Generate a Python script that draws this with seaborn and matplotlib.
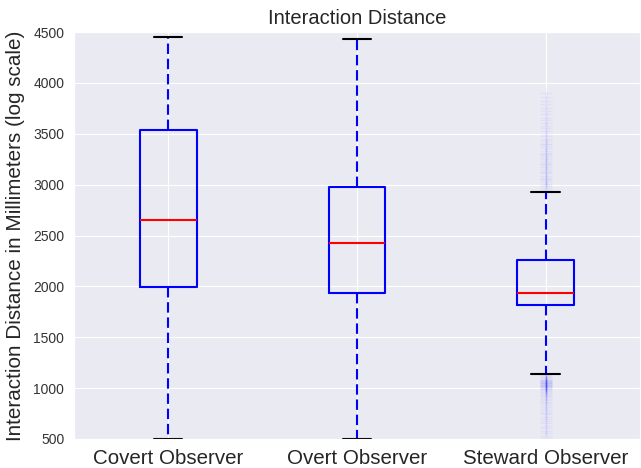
import matplotlib
matplotlib.use("Agg")
import matplotlib.pyplot as plt
import seaborn as sns

categories = ["Covert Observer", "Overt Observer", "Steward Observer"]
whisker_low = [500, 500, 1140]
q1 = [1995, 1935, 1815]
median = [2650, 2430, 1935]
q3 = [3535, 2980, 2260]
whisker_high = [4450, 4435, 2930]
steward_fliers = [
    3900, 3860, 3820, 3790, 3750, 3720, 3690, 3660, 3640, 3610, 3580, 3560,
    3530, 3500, 3480, 3450, 3430, 3400, 3380, 3360, 3330, 3310, 3290, 3270,
    3250, 3230, 3210, 3190, 3170, 3150, 3130, 3110, 3090, 3070, 3050, 3030,
    3010, 2990, 2970, 2950, 3200, 3120, 3060, 3000, 3300, 3400,
    1125, 1115, 1105, 1098, 1090, 1084, 1078, 1072, 1066, 1060, 1055, 1050,
    1046, 1040, 1035, 1030, 1024, 1018, 1012, 1006, 1000, 994, 988, 980,
    972, 964, 955, 945, 935, 922, 908, 895, 880, 865, 850, 832, 815, 798,
    780, 760, 742, 720, 700, 680, 655, 630, 605, 580, 555, 530, 510,
    1070, 1060, 1050, 1040, 1030, 1020, 1010,
]
fliers = [[], [], steward_fliers]

sns.set_style("darkgrid")
plt.rcParams["font.family"] = ["Liberation Sans", "DejaVu Sans"]

fig = plt.figure(figsize=(6.41, 4.68), dpi=100)
ax = fig.add_axes([0.1154, 0.062, 0.8830, 0.8694])

stats = []
for i, name in enumerate(categories):
    stats.append(dict(label=name, whislo=whisker_low[i], q1=q1[i], med=median[i],
                      q3=q3[i], whishi=whisker_high[i], fliers=fliers[i]))

ax.bxp(stats, positions=[1, 2, 3], widths=0.3,
       boxprops=dict(color="blue", linewidth=1.5),
       whiskerprops=dict(color="blue", linewidth=1.5, linestyle=(0, (5, 2.3))),
       capprops=dict(color="black", linewidth=1.5),
       medianprops=dict(color="red", linewidth=1.5),
       flierprops=dict(marker="+", markeredgecolor="blue", markersize=8,
                       alpha=0.04, linestyle="none"))

ax.set_xlim(0.5, 3.5)
ax.set_ylim(500, 4500)
ax.set_yticks(range(500, 4501, 500))
ax.tick_params(axis="y", labelsize=10, colors="#333333")
ax.tick_params(axis="x", labelsize=14.8)
for lbl in ax.get_xticklabels():
    lbl.set_color("#262626")
ax.set_title("Interaction Distance", fontsize=14.5, color="#262626")
ax.set_ylabel("Interaction Distance in Millimeters (log scale)", fontsize=14.9,
              color="#262626", labelpad=6)

fig.savefig("out.png", dpi=100)
